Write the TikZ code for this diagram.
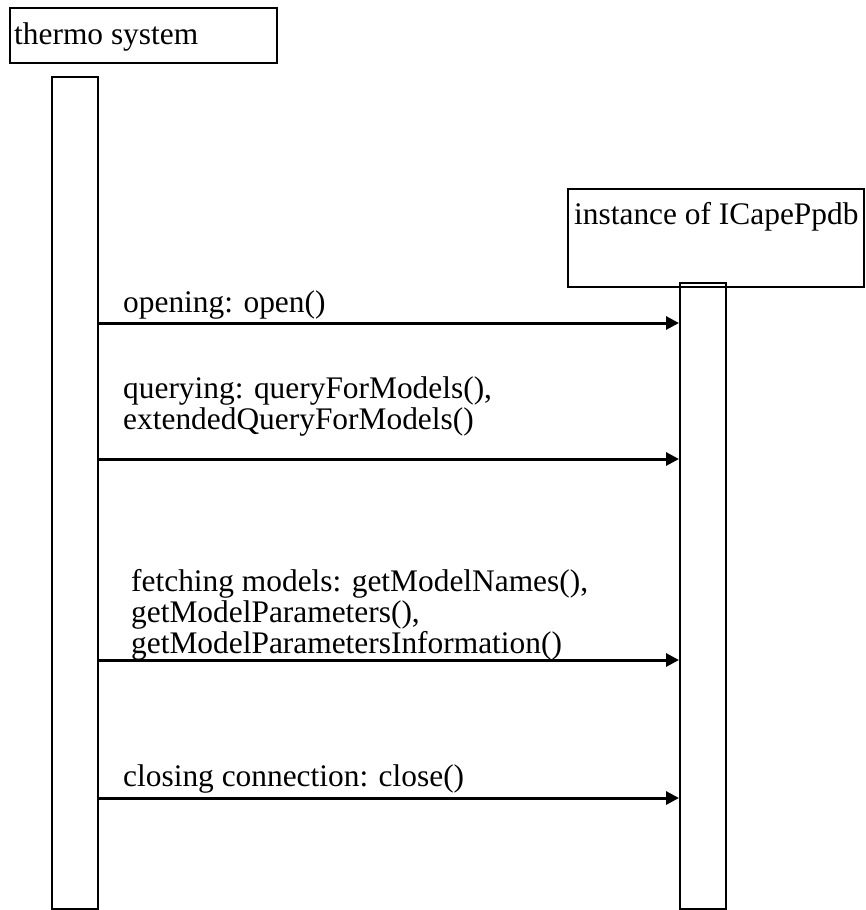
\documentclass[tikz,border=0pt]{standalone}
\usepackage{fontspec}
\setmainfont{Liberation Serif}
\usetikzlibrary{arrows.meta}
\begin{document}
\begin{tikzpicture}[x=1pt,y=-1pt,
  box/.style={draw=black,line width=2.2pt,inner sep=0pt,anchor=north west},
  lbl/.style={inner sep=0pt,anchor=base west,font=\fontsize{31.4}{31}\selectfont},
  msg/.style={draw=black,line width=3pt,-{Triangle[length=13pt,width=13pt]}}]
\useasboundingbox (0,0) rectangle (866,910);
% participants
\node[box,minimum width=267pt,minimum height=55pt] (ts) at (9,7) {};
\node[lbl] (tslbl) at (14,44) {thermo system};
\node[box,minimum width=296pt,minimum height=98pt] (ib) at (567,188) {};
\node[lbl] (iblbl) at (574,224) {instance of ICapePpdb};
% lifelines
\node[box,minimum width=46pt,minimum height=832pt] (ll) at (51,76) {};
\node[box,minimum width=46pt,minimum height=626pt] (rl) at (679,282) {};
% messages
\draw[msg] (ll.east |- 0,323) -- (rl.west |- 0,323);
\node[lbl] (m1) at (123,312) {opening: open()};
\draw[msg] (ll.east |- 0,459) -- (rl.west |- 0,459);
\node[lbl] (m2a) at (123,398) {querying: queryForModels(),};
\node[lbl] (m2b) at (123,429) {extendedQueryForModels()};
\draw[msg] (ll.east |- 0,660) -- (rl.west |- 0,660);
\node[lbl] (m3a) at (131,591) {fetching models: getModelNames(),};
\node[lbl] (m3b) at (131,622) {getModelParameters(),};
\node[lbl] (m3c) at (131,653) {getModelParametersInformation()};
\draw[msg] (ll.east |- 0,798) -- (rl.west |- 0,798);
\node[lbl] (m4) at (123,786) {closing connection: close()};
\end{tikzpicture}
\end{document}
